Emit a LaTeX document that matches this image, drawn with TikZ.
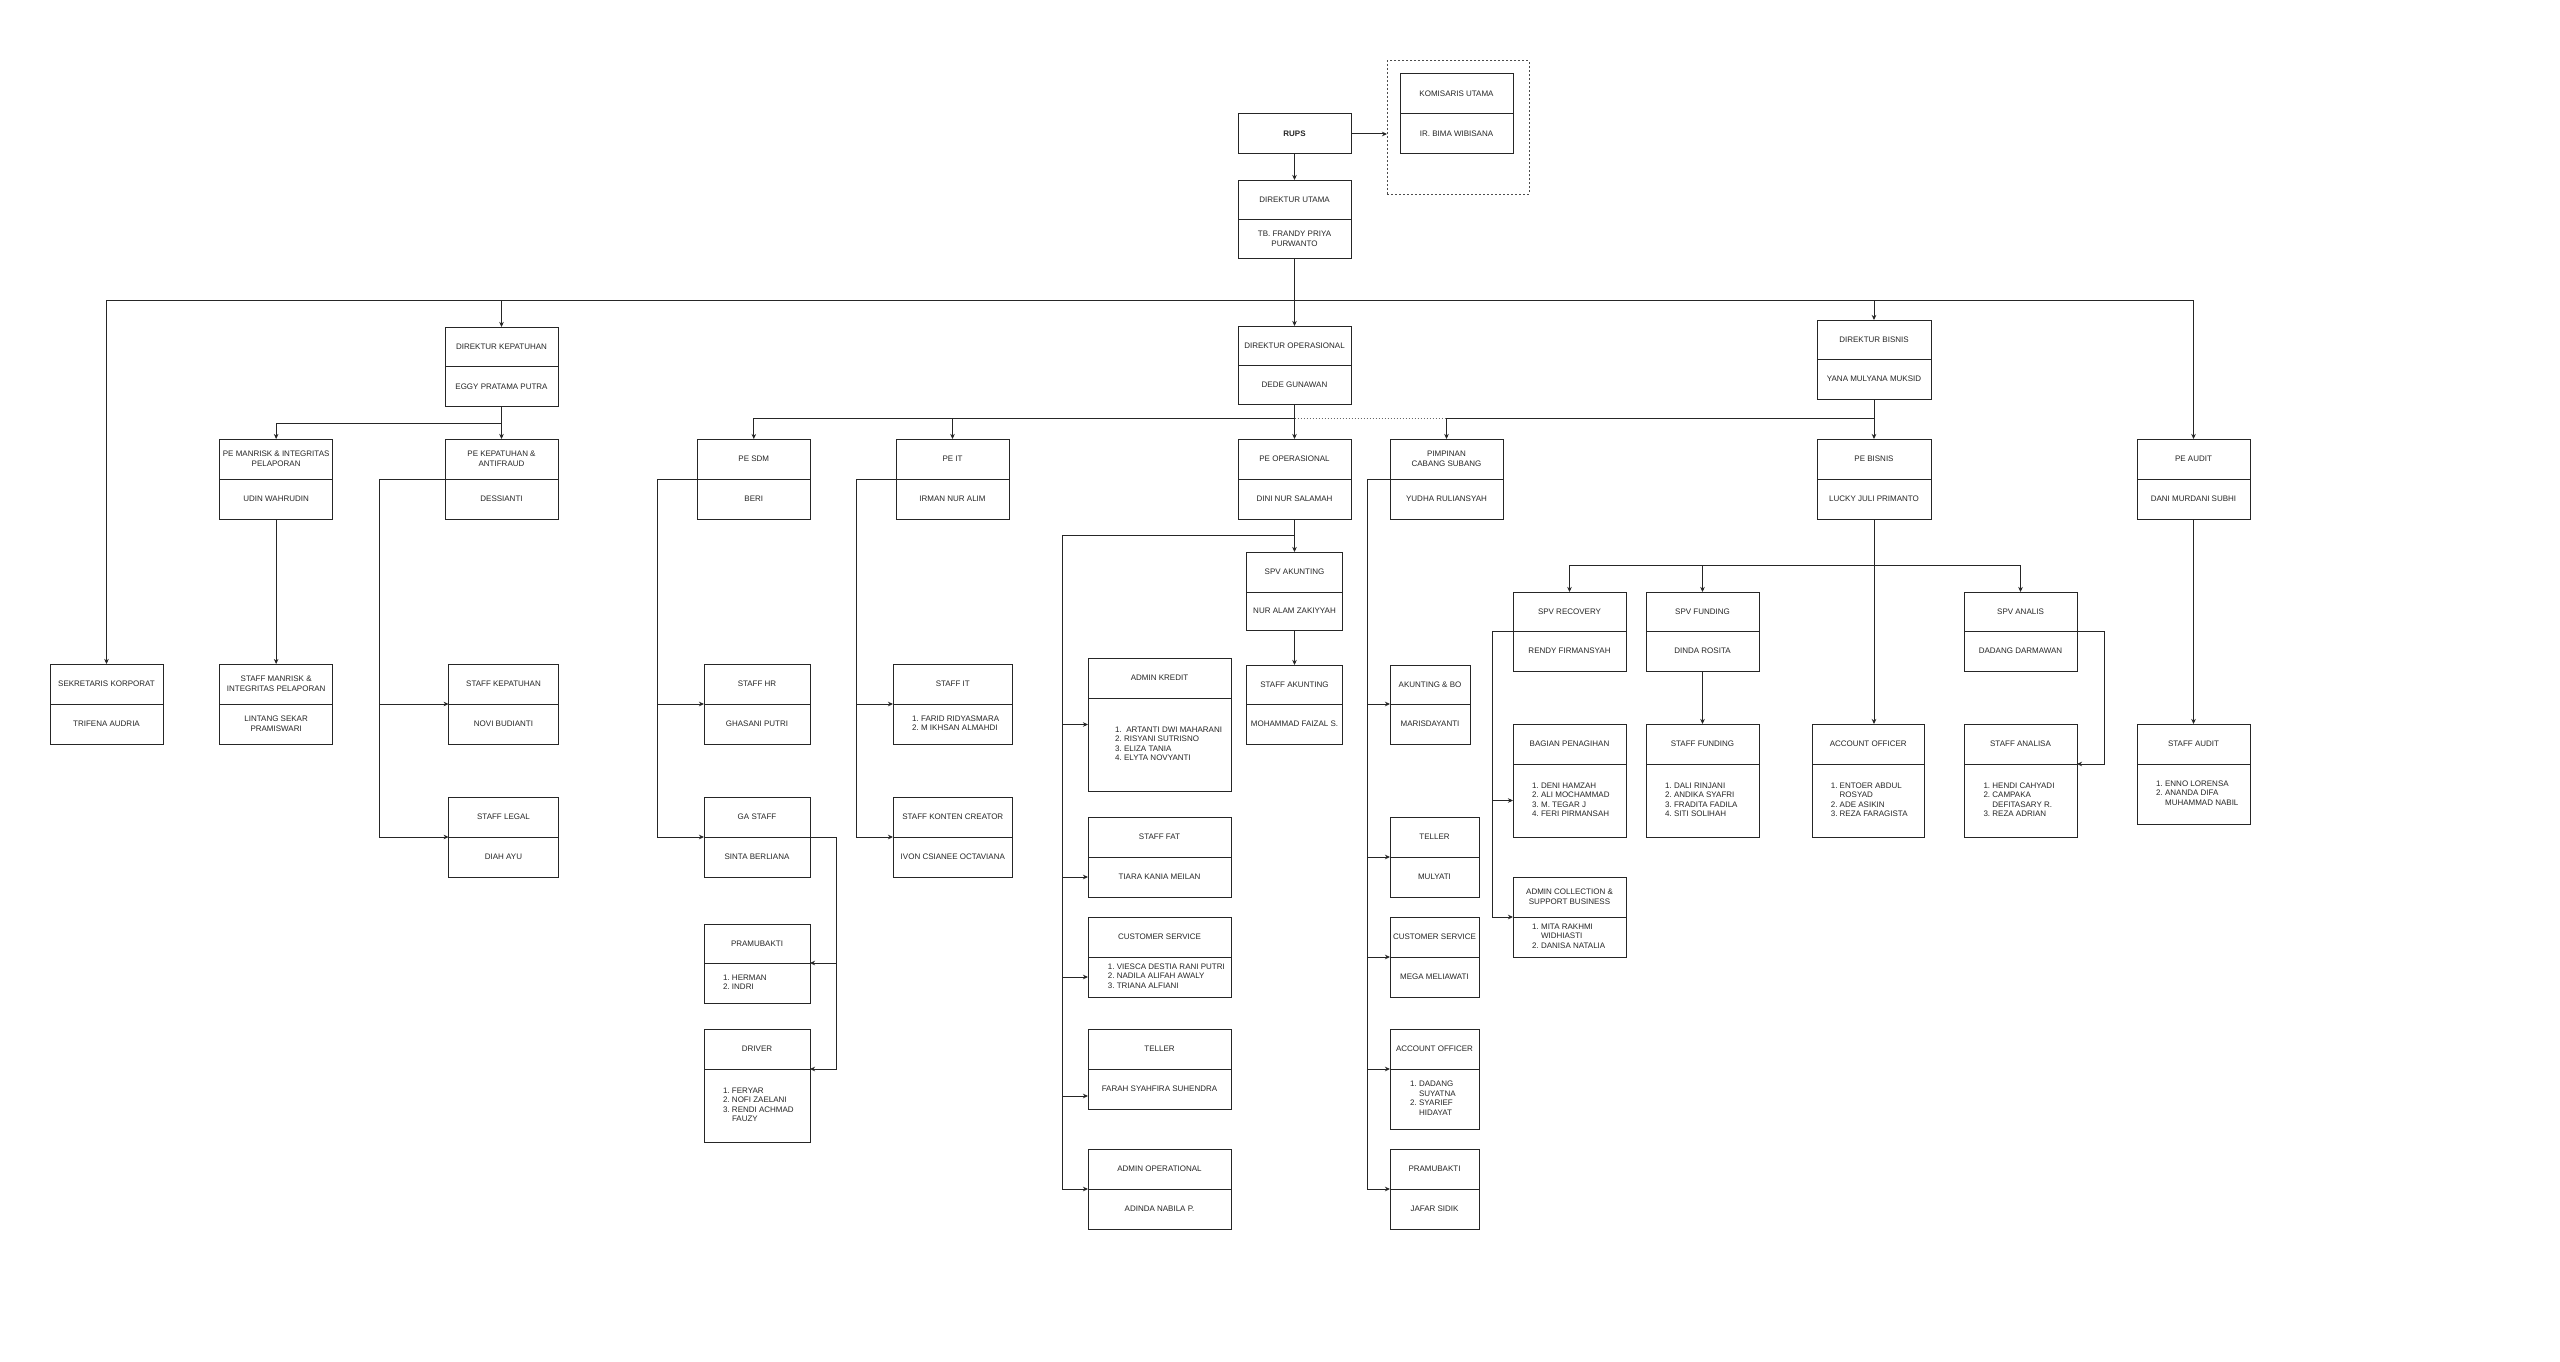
\documentclass[tikz,border=0pt]{standalone}
\usepackage{fontspec}
\setmainfont{Liberation Sans}
\usetikzlibrary{arrows.meta,calc}
\newcommand\lst[1]{\begin{tabular}{@{}r@{\ }l@{}}#1\end{tabular}}
% name, x1, y1, x2, ydiv, y2, title, body
\newcommand\obox[8]{%
  \pgfmathsetmacro\bcx{(#2+#4)/2}%
  \pgfmathsetmacro\bcy{(#3+#6)/2}%
  \pgfmathsetmacro\bw{#4-#2}%
  \pgfmathsetmacro\bh{#6-#3}%
  \pgfmathsetmacro\tcy{(#3+#5)/2}%
  \pgfmathsetmacro\bmy{(#5+#6)/2}%
  \node[obx, minimum width=\bw pt, minimum height=\bh pt] (#1) at (\bcx,\bcy) {};
  \coordinate (#1-dl) at (#2,#5);
  \coordinate (#1-dr) at (#4,#5);
  \coordinate (#1-bl) at (#2,\bmy);
  \draw[ln] (#1-dl) -- (#1-dr);
  \node[txt] (#1-t) at (\bcx,\tcy) {#7};
  \node[txt] (#1-b) at (\bcx,\bmy) {#8};
}
% same, with a list body starting at x = #9
\newcommand\oboxl[9]{%
  \pgfmathsetmacro\bcx{(#2+#4)/2}%
  \pgfmathsetmacro\bcy{(#3+#6)/2}%
  \pgfmathsetmacro\bw{#4-#2}%
  \pgfmathsetmacro\bh{#6-#3}%
  \pgfmathsetmacro\tcy{(#3+#5)/2}%
  \pgfmathsetmacro\bmy{(#5+#6)/2}%
  \node[obx, minimum width=\bw pt, minimum height=\bh pt] (#1) at (\bcx,\bcy) {};
  \coordinate (#1-dl) at (#2,#5);
  \coordinate (#1-dr) at (#4,#5);
  \coordinate (#1-bl) at (#2,\bmy);
  \draw[ln] (#1-dl) -- (#1-dr);
  \node[txt] (#1-t) at (\bcx,\tcy) {#7};
  \node[txt, anchor=west] (#1-b) at (#9,\bmy) {#8};
}
\begin{document}
\begin{tikzpicture}[x=1pt,y=-1pt,
  ln/.style={draw=black!85, line width=1pt},
  arr/.style={ln, -{Stealth[length=5pt,width=4.5pt,inset=1.5pt]}},
  obx/.style={draw=black!85, line width=1pt, rectangle, inner sep=0, outer sep=0, fill=white},
  txt/.style={font=\fontsize{8}{9.6}\selectfont, text=black!85, align=center, inner sep=0},
  dotln/.style={draw=black!60, line width=1pt, dash pattern=on 1.5pt off 1.5pt}]
\fill[white] (0,0) rectangle (2560,1362);
\useasboundingbox (0,0) rectangle (2560,1362);

% ---------- top ----------
\node[obx, draw=black!70, dash pattern=on 2pt off 2pt, fill=none, minimum width=142pt, minimum height=133pt] (komgrp) at (1458,127.5) {};
\node[obx, txt, font=\fontsize{8}{9.6}\selectfont\bfseries, minimum width=113pt, minimum height=40pt] (rups) at (1294.5,134) {RUPS};
\obox{kom}{1400}{74}{1513}{114}{154}{KOMISARIS UTAMA}{IR. BIMA WIBISANA}
\obox{du}{1238}{180}{1351}{219}{258}{DIREKTUR UTAMA}{TB. FRANDY PRIYA\\PURWANTO}

% ---------- directors ----------
\obox{dk}{445}{327}{558}{366.5}{406}{DIREKTUR KEPATUHAN}{EGGY PRATAMA PUTRA}
\obox{dop}{1238}{326}{1351}{365}{404}{DIREKTUR OPERASIONAL}{DEDE GUNAWAN}
\obox{db}{1817}{320}{1931}{359}{399}{DIREKTUR BISNIS}{YANA MULYANA MUKSID}

% ---------- PE level ----------
\obox{pem}{219.6}{439}{332.7}{479}{519}{PE MANRISK \& INTEGRITAS\\PELAPORAN}{UDIN WAHRUDIN}
\obox{pek}{445}{439}{558}{479}{519}{PE KEPATUHAN \&\\ANTIFRAUD}{DESSIANTI}
\obox{pesdm}{697.6}{439}{810}{479}{519}{PE SDM}{BERI}
\obox{peit}{896}{439}{1009}{479}{519}{PE IT}{IRMAN NUR ALIM}
\obox{peop}{1238}{439}{1351}{479}{519}{PE OPERASIONAL}{DINI NUR SALAMAH}
\obox{pim}{1390}{439}{1503}{479}{519}{PIMPINAN\\CABANG SUBANG}{YUDHA RULIANSYAH}
\obox{pebis}{1817}{439}{1931}{479}{519}{PE BISNIS}{LUCKY JULI PRIMANTO}
\obox{peaud}{2137}{439}{2250}{479}{519}{PE AUDIT}{DANI MURDANI SUBHI}

% ---------- staff ----------
\obox{sek}{50}{664}{163}{704}{744}{SEKRETARIS KORPORAT}{TRIFENA AUDRIA}
\obox{sman}{219.6}{664}{332.7}{704}{744}{STAFF MANRISK \&\\INTEGRITAS PELAPORAN}{LINTANG SEKAR\\PRAMISWARI}
\obox{skep}{448.6}{664}{558.4}{704}{744}{STAFF KEPATUHAN}{NOVI BUDIANTI}
\obox{slegal}{448.6}{797}{558.4}{837}{877}{STAFF LEGAL}{DIAH AYU}
\obox{shr}{704}{664}{810}{704}{744}{STAFF HR}{GHASANI PUTRI}
\obox{ga}{704}{797}{810}{837}{877}{GA STAFF}{SINTA BERLIANA}
\oboxl{pram1}{704}{924}{810}{963}{1003}{PRAMUBAKTI}{\lst{1.&HERMAN\\2.&INDRI}}{722.9}
\oboxl{drv}{704}{1029}{810}{1069}{1142}{DRIVER}{\lst{1.&FERYAR\\2.&NOFI ZAELANI\\3.&RENDI ACHMAD\\&FAUZY}}{722.9}
\oboxl{sit}{893}{664}{1012.6}{704}{744}{STAFF IT}{\lst{1.&FARID RIDYASMARA\\2.&M IKHSAN ALMAHDI}}{912}
\obox{skon}{893}{797}{1012.6}{837}{877}{STAFF KONTEN CREATOR}{IVON CSIANEE OCTAVIANA}
\obox{spvak}{1246.2}{552}{1342.8}{592}{630}{SPV AKUNTING}{NUR ALAM ZAKIYYAH}
\obox{stak}{1246.2}{665}{1342.8}{704}{744}{STAFF AKUNTING}{MOHAMMAD FAIZAL S.}
\oboxl{adkr}{1088}{658}{1231}{698}{791}{ADMIN KREDIT}{\lst{1.&\ ARTANTI DWI MAHARANI\\2.&RISYANI SUTRISNO\\3.&ELIZA TANIA\\4.&ELYTA NOVYANTI}}{1115}
\obox{sfat}{1088}{817}{1231}{857}{897}{STAFF FAT}{TIARA KANIA MEILAN}
\oboxl{cs1}{1088}{917}{1231}{957}{997}{CUSTOMER SERVICE}{\lst{1.&VIESCA DESTIA RANI PUTRI\\2.&NADILA ALIFAH AWALY\\3.&TRIANA ALFIANI}}{1107.7}
\obox{tel1}{1088}{1029}{1231}{1069}{1109}{TELLER}{FARAH SYAHFIRA SUHENDRA}
\obox{adop}{1088}{1149}{1231}{1189}{1229}{ADMIN OPERATIONAL}{ADINDA NABILA P.}
\obox{akbo}{1390}{665}{1470}{704}{744}{AKUNTING \& BO}{MARISDAYANTI}
\obox{tel2}{1390}{817}{1479}{857}{897}{TELLER}{MULYATI}
\obox{cs2}{1390}{917}{1479}{957}{997}{CUSTOMER SERVICE}{MEGA MELIAWATI}
\oboxl{ao2}{1390}{1029}{1479}{1069}{1129}{ACCOUNT OFFICER}{\lst{1.&DADANG\\&SUYATNA\\2.&SYARIEF\\&HIDAYAT}}{1410}
\obox{pram2}{1390}{1149}{1479}{1189}{1229}{PRAMUBAKTI}{JAFAR SIDIK}
\obox{spvrec}{1513}{592}{1626}{631}{671}{SPV RECOVERY}{RENDY FIRMANSYAH}
\obox{spvfun}{1646}{592}{1759}{631}{671}{SPV FUNDING}{DINDA ROSITA}
\obox{spvan}{1964}{592}{2077}{631}{671}{SPV ANALIS}{DADANG DARMAWAN}
\oboxl{bagpen}{1513}{724}{1626}{764}{837}{BAGIAN PENAGIHAN}{\lst{1.&DENI HAMZAH\\2.&ALI MOCHAMMAD\\3.&M. TEGAR J\\4.&FERI PIRMANSAH}}{1532}
\oboxl{adcol}{1513}{877}{1626}{917}{957}{ADMIN COLLECTION \&\\SUPPORT BUSINESS}{\lst{1.&MITA RAKHMI\\&WIDHIASTI\\2.&DANISA NATALIA}}{1532}
\oboxl{sfun}{1646}{724}{1759}{764}{837}{STAFF FUNDING}{\lst{1.&DALI RINJANI\\2.&ANDIKA SYAFRI\\3.&FRADITA FADILA\\4.&SITI SOLIHAH}}{1665}
\oboxl{ao3}{1812}{724}{1924.5}{764}{837}{ACCOUNT OFFICER}{\lst{1.&ENTOER ABDUL\\&ROSYAD\\2.&ADE ASIKIN\\3.&REZA FARAGISTA}}{1830.6}
\oboxl{san}{1964}{724}{2077}{764}{837}{STAFF ANALISA}{\lst{1.&HENDI CAHYADI\\2.&CAMPAKA\\&DEFITASARY R.\\3.&REZA ADRIAN}}{1983.3}
\oboxl{saud}{2137}{724}{2250}{764}{824}{STAFF AUDIT}{\lst{1.&ENNO LORENSA\\2.&ANANDA DIFA\\&MUHAMMAD NABIL}}{2156}

% ---------- connectors ----------
\draw[arr] (rups.east) -- (rups.east -| komgrp.west);
\draw[arr] (rups.south) -- (du.north);
\draw[arr] (du.south) -- (dop.north);
\coordinate (j0) at ([yshift=-42pt]du.south);
\draw[arr] (j0) -| (sek.north);
\draw[arr] (j0) -| (dk.north);
\draw[arr] (j0) -| (db.north);
\draw[arr] (j0) -| (peaud.north);

% kepatuhan
\draw[arr] (dk.south) -- (pek.north);
\draw[arr] (dk.south) -- ++(0,17) -| (pem.north);
\draw[arr] (pem.south) -- (sman.north);
\draw[arr] (pek-dl) -- ++(-65.4,0) |- (skep-dl);
\draw[arr] (pek-dl) -- ++(-65.4,0) |- (slegal-dl);

% operasional
\coordinate (jop) at ([yshift=-14.5pt]dop.south);
\draw[arr] (dop.south) -- (peop.north);
\draw[arr] (jop) -| (pesdm.north);
\draw[arr] (jop) -| (peit.north);
\draw[dotln] (jop) -- (jop -| pim.north);

% bisnis
\draw[arr] (db.south) -- (pebis.north);
\draw[arr] (db.south) -- ++(0,19.5) -| (pim.north);

% SDM
\draw[arr] (pesdm-dl) -- ++(-40,0) |- (shr-dl);
\draw[arr] (pesdm-dl) -- ++(-40,0) |- (ga-dl);
\draw[arr] (ga-dr) -- ++(26.7,0) |- (pram1-dr);
\draw[arr] (ga-dr) -- ++(26.7,0) |- (drv-dr);

% IT
\draw[arr] (peit-dl) -- ++(-40,0) |- (sit-dl);
\draw[arr] (peit-dl) -- ++(-40,0) |- (skon-dl);

% PE operasional
\draw[arr] (peop.south) -- (spvak.north);
\draw[arr] (spvak.south) -- (stak.north);
\coordinate (jo2) at ([yshift=-16pt]peop.south);
\coordinate (opl) at (1062,535);
\draw[ln] (jo2) -- (opl);
\draw[arr] (opl) |- (adkr.west);
\draw[arr] (opl) |- (sfat-bl);
\draw[arr] (opl) |- (cs1-bl);
\draw[arr] (opl) |- ([yshift=-7pt]tel1-bl);
\draw[arr] (opl) |- (adop-dl);

% pimpinan cabang
\draw[arr] (pim-dl) -- ++(-22.7,0) |- (akbo-dl);
\draw[arr] (pim-dl) -- ++(-22.7,0) |- (tel2-dl);
\draw[arr] (pim-dl) -- ++(-22.7,0) |- (cs2-dl);
\draw[arr] (pim-dl) -- ++(-22.7,0) |- (ao2-dl);
\draw[arr] (pim-dl) -- ++(-22.7,0) |- (pram2-dl);

% PE bisnis
\draw[arr] (pebis.south) -- (pebis.south |- ao3.north);
\coordinate (jb) at ([yshift=-46pt]pebis.south);
\draw[arr] (jb) -| (spvrec.north);
\draw[arr] (jb) -| (spvfun.north);
\draw[arr] (jb) -| (spvan.north);
\draw[arr] (spvrec-dl) -- ++(-21,0) |- (bagpen-bl);
\draw[arr] (spvrec-dl) -- ++(-21,0) |- (adcol-dl);
\draw[arr] (spvfun.south) -- (sfun.north);
\draw[arr] (spvan-dr) -- ++(27,0) |- (san-dr);

% audit
\draw[arr] (peaud.south) -- (saud.north);
\end{tikzpicture}
\end{document}
